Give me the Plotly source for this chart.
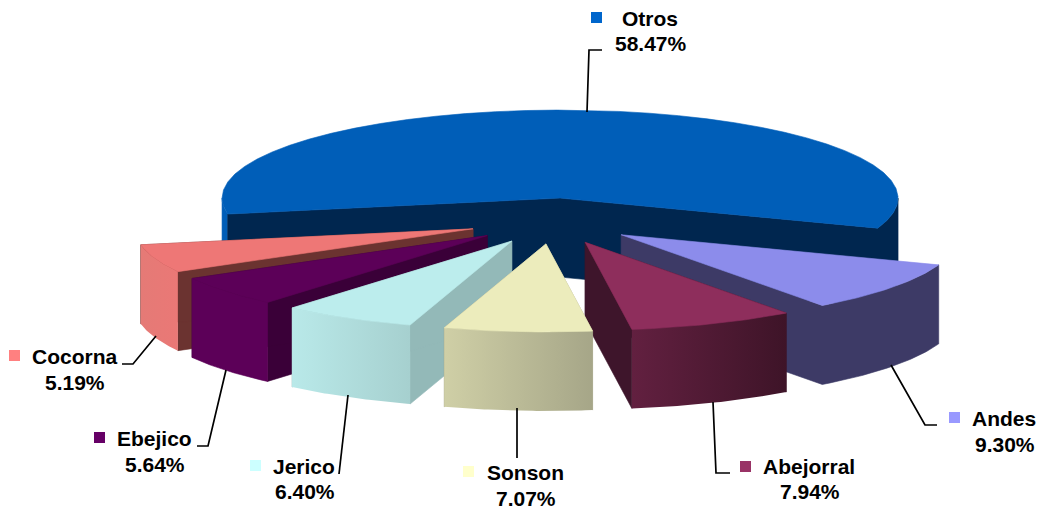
import math
import plotly.graph_objects as go

# ---- data ----
categories = ["Andes", "Abejorral", "Sonson", "Jerico", "Ebejico", "Cocorna", "Otros"]
values = [9.30, 7.94, 7.07, 6.40, 5.64, 5.19, 58.47]
pct_labels = ["9.30%", "7.94%", "7.07%", "6.40%", "5.64%", "5.19%", "58.47%"]
key_colors = ["#9999FF", "#993366", "#FFFFCC", "#CCFFFF", "#660066", "#FF8080", "#0066CC"]
top_colors = ["#8C8CEB", "#8E2E5C", "#ECECBC", "#BCEDED", "#5C0058", "#EE7776", "#005EB8"]
wall_colors = ["#3D3A66", "#3E152B", "#A6A688", "#93B9B8", "#3A0038", "#6B3330", "#00264F"]
rim_left = ["#3D3A66", "#622040", "#CFCFA6", "#B9E9E9", "#5C0058", "#E57A76", "#005EB8"]
rim_right = ["#3D3A66", "#3E1428", "#A6A688", "#A6D0CF", "#5C0058", "#EA7876", "#00264F"]

# ---- pie geometry ----
CX, CY = 553, 221      # pie centre
RX, RY = 338, 88       # ellipse radii
EX, EY = 85, 23        # explosion
DEPTH = 79
START = 20.0           # start angle, clockwise on screen

# ---- label layout: name position, percent position, key square, leader ----
name_pos = [(1004, 418), (809, 466), (525, 472), (304, 466), (154.5, 438), (74.5, 356), (650, 18)]
pct_pos = [(1005, 444), (810, 491), (526, 498), (305, 491), (155, 464), (75, 382), (651, 43)]
key_pos = [(954.5, 417.5), (745.5, 466.5), (468.5, 471.5), (255.5, 465.5), (99.5, 437.5), (14.5, 355.5), (596.5, 17.5)]
leaders = [
    [(937, 425), (925, 425), (891, 365)],
    [(730, 473), (716, 473), (713, 402)],
    [(517, 458), (517, 408)],
    [(339, 474), (348, 395)],
    [(197, 446), (208, 446), (226, 370)],
    [(122, 364), (133, 364), (156, 336)],
    [(602, 50), (589, 50), (587, 112)],
]

total = sum(values)
spans = [v / total * 360 for v in values]


def pt(a_deg, cx, cy):
    a = math.radians(a_deg)
    return cx + RX * math.cos(a), cy + RY * math.sin(a)


def arc(a0, a1, cx, cy, n=40):
    return [pt(a0 + (a1 - a0) * i / n, cx, cy) for i in range(n + 1)]


def poly(fig, pts, color=None, gradient=None):
    xs = [p[0] for p in pts] + [pts[0][0]]
    ys = [p[1] for p in pts] + [pts[0][1]]
    if gradient:
        kw = dict(fillgradient=dict(type="horizontal", colorscale=[[0, gradient[0]], [1, gradient[1]]]),
                  line=dict(width=0))
    else:
        kw = dict(fillcolor=color, line=dict(width=0.6, color=color))
    fig.add_trace(go.Scatter(x=xs, y=ys, mode="lines", fill="toself",
                             hoverinfo="skip", showlegend=False, **kw))


def wall(fig, pts, **kw):
    poly(fig, pts + [(x, y + DEPTH) for x, y in reversed(pts)], **kw)


# angular extents in data order
ranges = []
a = START
for s in spans:
    ranges.append((a, a + s))
    a += s

fig = go.Figure()

draw_order = [6, 0, 1, 5, 4, 3, 2]
for i in draw_order:
    a0, a1 = ranges[i]
    mid = math.radians((a0 + a1) / 2)
    cx, cy = CX + EX * math.cos(mid), CY + EY * math.sin(mid)
    tip = (cx, cy)
    if categories[i] == "Otros":
        # near-side outer strip on the left, then one dark band: inner faces + right rim
        wall(fig, arc(a0, 180, cx, cy), color=rim_left[i])
        wall(fig, [pt(a0, cx, cy), tip] + arc(a1, 360, cx, cy), color=wall_colors[i])
    elif wall_colors[i] == rim_left[i]:
        # single colour side: radial face and rim as one band
        wall(fig, [tip] + arc(a1, a0, cx, cy), color=wall_colors[i])
    elif rim_left[i] == rim_right[i]:
        wall(fig, [tip, pt(a0, cx, cy)], color=wall_colors[i])
        wall(fig, [tip, pt(a1, cx, cy)], color=wall_colors[i])
        wall(fig, arc(a0, a1, cx, cy), color=rim_left[i])
    else:
        wall(fig, [tip, pt(a0, cx, cy)], color=wall_colors[i])
        wall(fig, [tip, pt(a1, cx, cy)], color=wall_colors[i])
        wall(fig, arc(a0, a1, cx, cy), gradient=(rim_left[i], rim_right[i]))
    # top face
    poly(fig, [tip] + arc(a0, a1, cx, cy), color=top_colors[i])

# leader lines
for seg in leaders:
    fig.add_trace(go.Scatter(x=[p[0] for p in seg], y=[p[1] for p in seg], mode="lines",
                             line=dict(color="#000000", width=1.7), hoverinfo="skip", showlegend=False))

# key squares
fig.add_trace(go.Scatter(x=[p[0] for p in key_pos], y=[p[1] for p in key_pos], mode="markers",
                         marker=dict(symbol="square", size=11, color=key_colors, line=dict(width=0)),
                         hoverinfo="skip", showlegend=False))

FONT = dict(family="Liberation Sans, Arial, sans-serif", size=21, color="#000000")
annotations = []
for i, c in enumerate(categories):
    for txt, (x, y) in ((f"<b>{c}</b>", name_pos[i]), (f"<b>{pct_labels[i]}</b>", pct_pos[i])):
        annotations.append(dict(x=x, y=y, text=txt, showarrow=False, xanchor="center", yanchor="middle",
                                font=FONT, xref="x", yref="y"))

fig.update_layout(
    width=1041, height=510, margin=dict(l=0, r=0, t=0, b=0),
    paper_bgcolor="#FFFFFF", plot_bgcolor="#FFFFFF", showlegend=False,
    xaxis=dict(range=[0, 1041], visible=False, fixedrange=True),
    yaxis=dict(range=[510, 0], visible=False, fixedrange=True),
    annotations=annotations,
)
fig.write_html("out.html", config=dict(displayModeBar=False),
               post_script="document.body.style.margin='0';document.documentElement.style.overflow='hidden';")
